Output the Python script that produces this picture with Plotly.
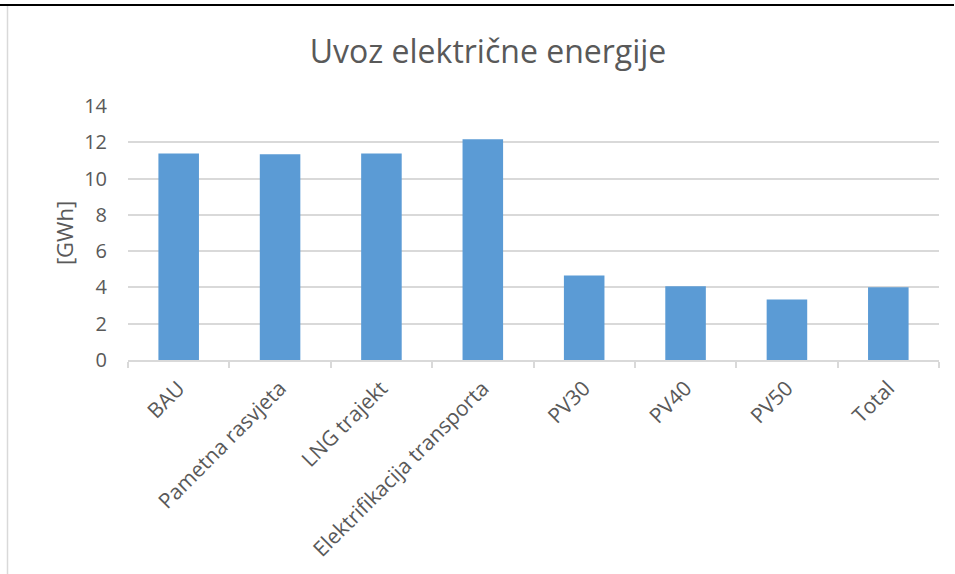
import plotly.graph_objects as go

# Electricity import per scenario [GWh]
categories = ["BAU", "Pametna rasvjeta", "LNG trajekt", "Elektrifikacija transporta",
              "PV30", "PV40", "PV50", "Total"]
import_gwh = [11.38, 11.34, 11.38, 12.17, 4.66, 4.07, 3.34, 4.01]
y_ticks = [0, 2, 4, 6, 8, 10, 12, 14]

W, H = 955, 574
ML, MR, MT, MB = 128, 16, 106, 214
FONT = "Open Sans"
GREY_TXT = "#595959"
GRID = "#d9d9d9"

def px_x(px):
    return (px - ML) / (W - ML - MR)

def px_y(py):
    return (H - MB - py) / (H - MT - MB)

fig = go.Figure(
    go.Bar(
        x=categories,
        y=import_gwh,
        marker=dict(color="#5b9bd5", line=dict(width=0)),
        width=0.4,
    )
)

fig.update_layout(
    width=W,
    height=H,
    margin=dict(l=ML, r=MR, t=MT, b=MB),
    paper_bgcolor="white",
    plot_bgcolor="white",
    showlegend=False,
    font=dict(family=FONT, color=GREY_TXT),
    title=dict(
        text="Uvoz električne energije",
        x=0.511, xanchor="center",
        y=1 - 52 / H, yanchor="middle",
        font=dict(family=FONT, size=32, color=GREY_TXT),
    ),
    shapes=[
        # frame edges of the surrounding page
        dict(type="line", xref="paper", yref="paper",
             x0=px_x(0), x1=px_x(954), y0=px_y(5), y1=px_y(5),
             line=dict(color="black", width=2)),
        dict(type="line", xref="paper", yref="paper",
             x0=px_x(7.5), x1=px_x(7.5), y0=px_y(6), y1=px_y(H),
             line=dict(color="#d9d9d9", width=1.5)),
    ],
)

fig.update_xaxes(
    type="category",
    tickangle=-45,
    tickfont=dict(family=FONT, size=21, color=GREY_TXT),
    showline=True, linecolor=GRID, linewidth=1.5,
    ticks="outside", tickson="boundaries", ticklen=6,
    tickcolor=GRID, tickwidth=1.5,
    ticklabelstandoff=6,
    showgrid=False,
    range=[-0.5, 7.5],
)

fig.update_yaxes(
    range=[0, 14],
    tickvals=y_ticks,
    tickfont=dict(family=FONT, size=20, color=GREY_TXT),
    showgrid=True, gridcolor=GRID, gridwidth=1.5,
    zeroline=False,
    showline=False,
    ticklabelstandoff=20,
    title=dict(text="[GWh]", font=dict(family=FONT, size=22, color=GREY_TXT),
               standoff=4),
)

fig.write_html("out.html")
